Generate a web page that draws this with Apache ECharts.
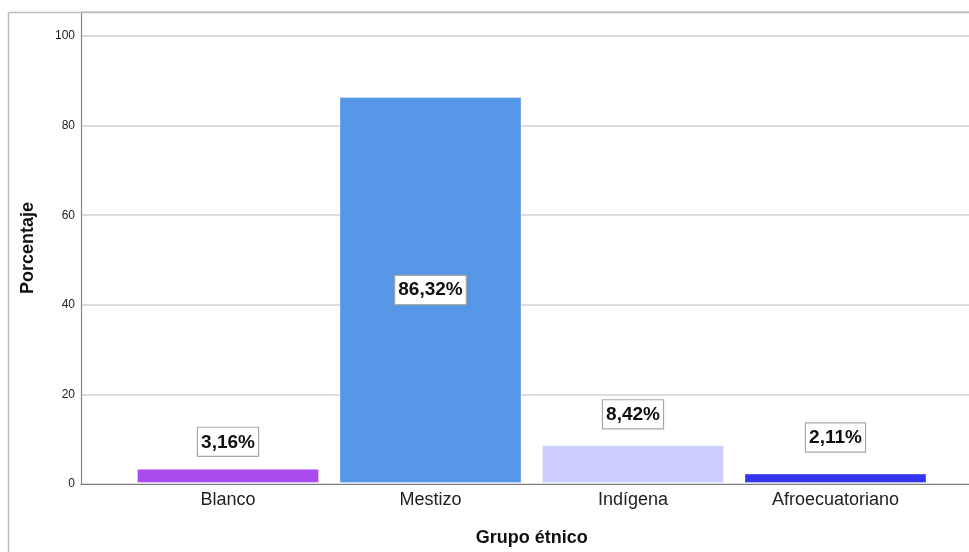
<!DOCTYPE html>
<html>
<head>
<meta charset="utf-8">
<script src="https://cdn.jsdelivr.net/npm/echarts@6/dist/echarts.min.js"></script>
<style>html,body{margin:0;padding:0;background:#fff;}#c{width:969px;height:552px;}</style>
</head>
<body>
<div id="c"></div>
<script>
const categories = ['Blanco', 'Mestizo', 'Indígena', 'Afroecuatoriano'];
const values = [3.16, 86.32, 8.42, 2.11];
const labels = ['3,16%', '86,32%', '8,42%', '2,11%'];
const colors = ['#A94BEE', '#5596E6', '#CCCCFF', '#3535F5'];
const yTicks = [0, 20, 40, 60, 80, 100];

const chart = echarts.init(document.getElementById('c'), null, {renderer: 'canvas'});
const YMAX = 105.36;
const FONT = '"Liberation Sans", Arial, sans-serif';
const labelPos = ['top', 'inside', 'top', 'top'];
const labelDist = [13, 5, 17, 22];

const option = {
  animation: false,
  backgroundColor: '#fff',
  grid: [
    {left: 81, top: 12, width: 901.5, height: 472},
    {left: 126.75, top: 12, width: 810, height: 472}
  ],
  xAxis: [
    {gridIndex: 0, type: 'value', min: 0, max: 1,
     axisLine: {show: true, lineStyle: {color: '#7f7f7f', width: 1.2}},
     axisTick: {show: false}, axisLabel: {show: false}, splitLine: {show: false}},
    {gridIndex: 1, type: 'category', data: categories,
     axisLine: {show: false}, axisTick: {show: false},
     axisLabel: {fontSize: 18, color: '#222', margin: 8, fontFamily: FONT},
     name: 'Grupo étnico', nameLocation: 'middle', nameGap: 46,
     nameTextStyle: {fontSize: 18, fontWeight: 'bold', color: '#111', fontFamily: FONT}}
  ],
  yAxis: [
    {gridIndex: 0, type: 'value', min: 0, max: YMAX, interval: 20,
     axisLine: {show: true, lineStyle: {color: '#888', width: 1.2}},
     axisTick: {show: false},
     axisLabel: {fontSize: 12, color: '#222', margin: 6, fontFamily: FONT,
       formatter: v => yTicks.indexOf(v) >= 0 ? String(v) : ''},
     splitLine: {show: true, lineStyle: {color: '#d0d0d0', width: 1.5}},
     name: 'Porcentaje', nameLocation: 'middle', nameGap: 44, nameRotate: 90,
     nameTextStyle: {fontSize: 18, fontWeight: 'bold', color: '#111', fontFamily: FONT}},
    {gridIndex: 1, type: 'value', min: 0, max: YMAX, show: false}
  ],
  graphic: [
    {type: 'line', shape: {x1: 8.5, y1: 12.5, x2: 969, y2: 12.5}, style: {stroke: '#bdbdbd', lineWidth: 1.5}, z: 10},
    {type: 'line', shape: {x1: 8.5, y1: 12, x2: 8.5, y2: 552}, style: {stroke: '#bdbdbd', lineWidth: 1.5}, z: 10}
  ],
  series: [{
    type: 'bar', xAxisIndex: 1, yAxisIndex: 1, barWidth: 182,
    data: values.map((v, i) => ({
      value: v,
      itemStyle: {color: colors[i], borderColor: 'rgba(255,255,255,0.35)', borderWidth: 1},
      label: {show: true, position: labelPos[i], distance: labelDist[i], formatter: labels[i]}
    })),
    label: {fontSize: 19, fontWeight: 'bold', color: '#111', fontFamily: FONT,
      backgroundColor: '#fff', borderColor: '#a8a8a8', borderWidth: 1.2, padding: [5, 3, 4, 3]}
  }]
};
chart.setOption(option);
</script>
</body>
</html>
